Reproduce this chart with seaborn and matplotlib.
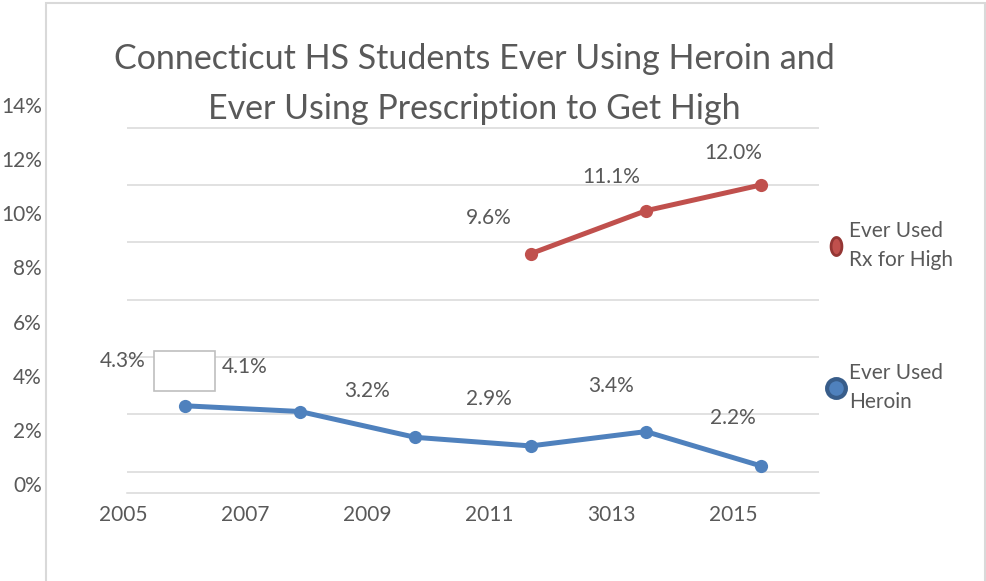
import numpy as np
import pandas as pd
import matplotlib
matplotlib.use("Agg")
import matplotlib.pyplot as plt
import seaborn as sns
from matplotlib.lines import Line2D
from matplotlib.patches import Rectangle
from matplotlib.path import Path
import matplotlib.transforms as mtransforms

# ---------------- data ----------------
years = [2005, 2007, 2009, 2011, 2013, 2015]
year_labels = ["2005", "2007", "2009", "2011", "3013", "2015"]
heroin = [4.3, 4.1, 3.2, 2.9, 3.4, 2.2]
rx_years = [2011, 2013, 2015]
rx = [9.6, 11.1, 12.0]
y_ticks = [0, 2, 4, 6, 8, 10, 12, 14]
y_tick_labels = ["0%", "2%", "4%", "6%", "8%", "10%", "12%", "14%"]
series_names = ["Ever Used\nRx for High", "Ever Used\nHeroin"]
title = "Connecticut HS Students Ever Using Heroin and\nEver Using Prescription to Get High"

# ---------------- style ----------------
W, H = 987, 581
sns.set_theme(style="white")
plt.rcParams["font.family"] = ["Lato", "DejaVu Sans"]
TXT = "#595959"
GRID = "#d9d9d9"
BLUE = "#4f81bd"
RED = "#c0504d"
FS = 15

fig = plt.figure(figsize=(W / 100, H / 100), dpi=100)
fig.patch.set_facecolor("white")


def fx(px):
    return px / W


def fy(py):
    return 1 - py / H


# outer frame
fig.patches.append(Rectangle((fx(46), fy(700)), fx(985) - fx(46), fy(3) - fy(700),
                             transform=fig.transFigure, fill=False, ec=GRID, lw=1.5))

# ---------------- main plotting axes ----------------
ax = fig.add_axes([fx(127), fy(492.7), fx(819) - fx(127), fy(125.5) - fy(492.7)])
ax.set_facecolor("none")
df = pd.DataFrame({
    "year": years + rx_years,
    "value": heroin + rx,
    "series": ["Heroin"] * len(years) + ["Rx"] * len(rx_years),
})
sns.lineplot(data=df, x="year", y="value", hue="series",
             palette={"Heroin": BLUE, "Rx": RED}, marker="o", markersize=9.5,
             linewidth=3.6, markeredgewidth=0, legend=False, ax=ax, sort=False)
ax.set_xlim(2004, 2016)
ax.set_ylim(1.27, 14 + 2.0 / 28.68)
ax.set_yticks(y_ticks[1:])
ax.yaxis.grid(True, color=GRID, lw=1.1)
ax.xaxis.grid(False)
ax.tick_params(labelleft=False, labelbottom=False, length=0)
ax.set_xlabel("")
ax.set_ylabel("")
for s in ["left", "right", "top"]:
    ax.spines[s].set_visible(False)
ax.spines["bottom"].set_color(GRID)
ax.spines["bottom"].set_linewidth(1.1)

# ---------------- value axis labels (left) ----------------
ax2 = fig.add_axes([fx(46), 0, 0.001, 1])
ax2.set_facecolor("none")
ax2.set_ylim(-3.583, 17.88)
ax2.set_yticks(y_ticks)
ax2.set_yticklabels(y_tick_labels)
ax2.set_xticks([])
ax2.tick_params(axis="y", length=0, pad=2.9, labelsize=FS, labelcolor=TXT)
for s in ax2.spines.values():
    s.set_visible(False)

# ---------------- category axis labels (bottom) ----------------
ax3 = fig.add_axes([0, fy(492.7), 1, 0.001])
ax3.set_facecolor("none")
ax3.set_xlim(2002.984, 2019.164)
ax3.set_xticks(years)
ax3.set_xticklabels(year_labels)
ax3.set_yticks([])
ax3.tick_params(axis="x", length=0, pad=9, labelsize=FS, labelcolor=TXT)
for s in ax3.spines.values():
    s.set_visible(False)

# ---------------- data labels ----------------
trans = mtransforms.blended_transform_factory(ax3.transData, ax2.transData)
for x, v in list(zip(years, heroin)) + list(zip(rx_years, rx)):
    ax.annotate(f"{v:.1f}%", xy=(x, v), xycoords=trans, xytext=(0, 4.5),
                textcoords="offset points", ha="center", va="center",
                fontsize=FS, color=TXT, annotation_clip=False)

# empty label box
fig.patches.append(Rectangle((fx(154), fy(391)), fx(215) - fx(154), fy(351) - fy(391),
                             transform=fig.transFigure, fc="white", ec="#bfbfbf", lw=1.2))

# ---------------- title ----------------
fig.text(fx(474), fy(84), title, ha="center", va="center", fontsize=24.5,
         color=TXT, linespacing=1.68)

# ---------------- legend ----------------
t = np.linspace(0, 2 * np.pi, 60)
ellipse = Path(np.column_stack([0.6 * np.cos(t), np.sin(t)]), closed=True)
handles = [
    Line2D([], [], ls="none", marker=ellipse, ms=13, mfc=RED, mec="#943634", mew=2),
    Line2D([], [], ls="none", marker="o", ms=13.5, mfc=BLUE, mec="#385d8a", mew=3),
]
leg = fig.legend(handles, series_names, loc="center left",
                 bbox_to_anchor=(fx(826), fy(316.5)), frameon=False, fontsize=FS,
                 labelcolor=TXT, handlelength=1.0, handletextpad=0.1,
                 labelspacing=4.45, borderpad=0, borderaxespad=0)
for tx in leg.get_texts():
    tx.set_linespacing(1.55)

fig.savefig("out.png", dpi=100)
